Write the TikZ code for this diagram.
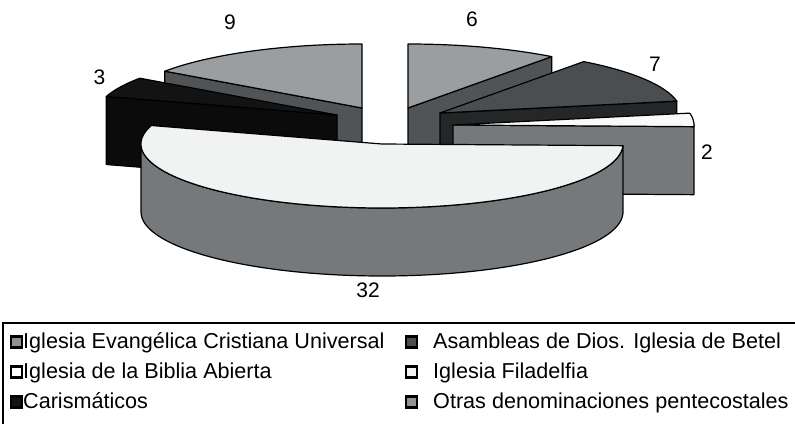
\documentclass[tikz,border=0pt]{standalone}
\usepackage{fontspec}
\setmainfont{Liberation Sans}
\usetikzlibrary{positioning}
\definecolor{lightslice}{HTML}{9A9EA1}
\definecolor{darkslice}{HTML}{505457}
\definecolor{asambtop}{HTML}{4B4E50}
\definecolor{asambside}{HTML}{242627}
\definecolor{bibliatop}{HTML}{F9F9F9}
\definecolor{filatop}{HTML}{F1F3F3}
\definecolor{slateside}{HTML}{76797B}
\definecolor{carisma}{HTML}{131313}
\definecolor{carismaside}{HTML}{0B0B0B}
\definecolor{legendgray}{HTML}{8F9395}

\tikzset{
  wedge/.style={draw=black, line width=1.2pt, line join=round},
  swatch/.style={draw=black, line width=2.4pt, minimum width=11pt, minimum height=11pt, inner sep=0pt, outer sep=0pt},
  legendtext/.style={anchor=base west, inner sep=0pt, font=\fontsize{21.6}{25}\selectfont},
  valuelabel/.style={inner sep=0pt, font=\fontsize{21}{25}\selectfont}
}

\begin{document}
\begin{tikzpicture}[x=1pt,y=1pt]
  \useasboundingbox (0,0) rectangle (795,424);

  % Otras denominaciones pentecostales (9)
  \begin{scope}[shift={(362,316)}]
    \draw[wedge, fill=darkslice] (0,0) -- (144.9:241 and 64) -- ++(0,-68) -- (0,-68) -- cycle;
    \draw[wedge, fill=lightslice] (0,0) -- (90:241 and 64) arc[start angle=90, end angle=144.9, x radius=241, y radius=64] -- cycle;
  \end{scope}

  % Iglesia Evangelica Cristiana Universal (6)
  \begin{scope}[shift={(408,316)}]
    \draw[wedge, fill=darkslice] (0,0) -- (53.4:241 and 64) -- ++(0,-68) -- (0,-68) -- cycle;
    \draw[wedge, fill=lightslice] (0,0) -- (53.4:241 and 64) arc[start angle=53.4, end angle=90, x radius=241, y radius=64] -- cycle;
  \end{scope}

  % Asambleas de Dios (7)
  \begin{scope}[shift={(440,311)}]
    \draw[wedge, fill=asambside] (0,0) -- (10.7:241 and 64) -- ++(0,-68) -- (0,-68) -- cycle;
    \draw[wedge, fill=asambtop] (0,0) -- (10.7:241 and 64) arc[start angle=10.7, end angle=53.4, x radius=241, y radius=64] -- cycle;
  \end{scope}

  % Carismaticos (3)
  \begin{scope}[shift={(337,309)}]
    \draw[wedge, fill=carismaside] (0,0) -- (163.2:241 and 64) -- ++(0,-68) -- (0,-68) -- cycle;
    \draw[wedge, fill=carisma] (0,0) -- (144.9:241 and 64) arc[start angle=144.9, end angle=163.2, x radius=241, y radius=64] -- cycle;
  \end{scope}

  % Iglesia de la Biblia Abierta (2)
  \begin{scope}[shift={(453,299)}]
    \draw[wedge, fill=slateside] (0,0) -- (-1.5:241 and 64) arc[start angle=-1.5, end angle=0, x radius=241, y radius=64]
      -- ++(0,-68) arc[start angle=0, end angle=-1.5, x radius=241, y radius=64] -- (0,-68) -- cycle;
    \draw[wedge, fill=bibliatop] (0,0) -- (-1.5:241 and 64) arc[start angle=-1.5, end angle=10.7, x radius=241, y radius=64] -- cycle;
  \end{scope}

  % Iglesia Filadelfia (32)
  \begin{scope}[shift={(382,280)}]
    \draw[wedge, fill=slateside] (180:241 and 64) arc[start angle=180, end angle=358.5, x radius=241, y radius=64]
      -- ++(0,-68) arc[start angle=358.5, end angle=180, x radius=241, y radius=64] -- cycle;
    \draw[wedge, fill=filatop] (0,0) -- (163.2:241 and 64) arc[start angle=163.2, end angle=358.5, x radius=241, y radius=64] -- cycle;
  \end{scope}

  % Values
  \node[valuelabel] (val9) at (230,401.5) {9};
  \node[valuelabel] (val6) at (472,405) {6};
  \node[valuelabel] (val7) at (655,359.5) {7};
  \node[valuelabel] (val2) at (707,272) {2};
  \node[valuelabel] (val32) at (368,134) {32};
  \node[valuelabel] (val3) at (99.5,346.5) {3};

  % Legend frame
  \draw[line width=2.5pt] (3,0) -- (3,101) -- (795,101);

  % Legend entries
  \node[swatch, fill=legendgray] (swA) at (16.5,82) {};
  \node[legendtext] (txtA) at (23,76) {Iglesia Evangélica Cristiana Universal};
  \node[swatch, fill=asambtop] (swB) at (411.5,82) {};
  \node[legendtext] (txtB) at (433,76) {Asambleas de Dios. Iglesia de Betel};
  \node[swatch, fill=white] (swC) at (16.5,52) {};
  \node[legendtext] (txtC) at (23,46) {Iglesia de la Biblia Abierta};
  \node[swatch, fill=filatop] (swD) at (411.5,52) {};
  \node[legendtext] (txtD) at (433,46) {Iglesia Filadelfia};
  \node[swatch, fill=carisma] (swE) at (16.5,22) {};
  \node[legendtext] (txtE) at (23,16) {Carismáticos};
  \node[swatch, fill=legendgray] (swF) at (411.5,22) {};
  \node[legendtext] (txtF) at (433,16) {Otras denominaciones pentecostales};
\end{tikzpicture}
\end{document}
